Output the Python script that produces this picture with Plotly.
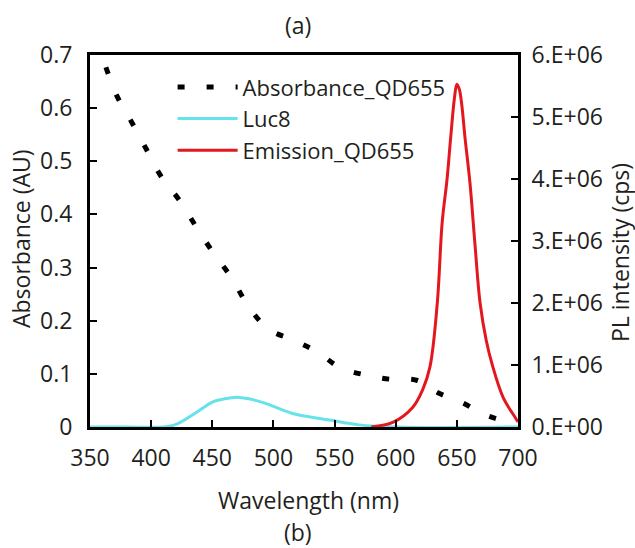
import plotly.graph_objects as go

# Absorbance spectrum of QD655 (AU)
abs_wl = [363, 372, 384, 396, 408, 423, 437, 451, 466, 479, 496, 516, 536, 555,
          575, 595, 617, 635, 655, 673, 698]
abs_val = [0.677, 0.623, 0.574, 0.523, 0.472, 0.427, 0.376, 0.327, 0.280, 0.229,
           0.184, 0.164, 0.141, 0.111, 0.098, 0.090, 0.088, 0.064, 0.045, 0.023, 0.006]

# Luc8 bioluminescence (scaled to absorbance axis)
luc_wl = [350, 380, 418, 436, 450, 460, 470, 480, 493, 515, 546, 570, 600, 700]
luc_val = [0, 0, 0.003, 0.026, 0.047, 0.053, 0.056, 0.053, 0.045, 0.026, 0.013,
           0.004, 0, 0]

# QD655 photoluminescence (cps)
em_wl = [580, 598, 614, 622, 628, 634, 638, 642, 645, 648, 650, 652, 654, 656.6,
         660.7, 665, 669, 674, 679, 688, 697.5, 700]
em_val = [0, 0.08e6, 0.32e6, 0.60e6, 0.97e6, 2.0e6, 3.3e6, 4.0e6, 4.68e6, 5.3e6,
          5.53e6, 5.45e6, 5.2e6, 4.68e6, 3.94e6, 2.9e6, 2.0e6, 1.4e6, 1.0e6, 0.47e6,
          0.16e6, 0.08e6]

x_ticks = [350, 400, 450, 500, 550, 600, 650, 700]
left_ticks = [0, 0.1, 0.2, 0.3, 0.4, 0.5, 0.6, 0.7]
left_labels = ["0", "0.1", "0.2", "0.3", "0.4", "0.5", "0.6", "0.7"]
right_ticks = [0, 1e6, 2e6, 3e6, 4e6, 5e6, 6e6]
right_labels = ["0.E+00", "1.E+06", "2.E+06", "3.E+06", "4.E+06", "5.E+06", "6.E+06"]

FONT = "Open Sans"
FS = 23
INK = "#231f20"

fig = go.Figure()
fig.add_trace(go.Scatter(
    x=abs_wl, y=abs_val, name="Absorbance_QD655", mode="lines",
    line=dict(color="black", width=5, dash="7px,22px", shape="spline"),
))
fig.add_trace(go.Scatter(
    x=luc_wl, y=luc_val, name="Luc8", mode="lines",
    line=dict(color="#66e2ea", width=3, shape="spline"),
))
fig.add_trace(go.Scatter(
    x=em_wl, y=em_val, name="Emission_QD655", mode="lines", yaxis="y2",
    line=dict(color="#e3171d", width=3, shape="spline"),
))

axis_common = dict(
    showgrid=False, zeroline=False, showline=True, linecolor="black", linewidth=3,
    ticks="inside", ticklen=7, tickwidth=2, tickcolor="black",
    tickfont=dict(family=FONT, size=FS, color=INK),
)

fig.update_layout(
    width=635, height=548,
    margin=dict(l=90, r=117, t=55, b=121),
    paper_bgcolor="white", plot_bgcolor="white",
    font=dict(family=FONT, size=FS, color=INK),
    xaxis=dict(range=[350, 700], tickvals=x_ticks, mirror=True,
               ticklabelstandoff=8, **axis_common),
    yaxis=dict(range=[0, 0.7], tickvals=left_ticks, ticktext=left_labels,
               ticklabelstandoff=10, **axis_common),
    yaxis2=dict(range=[0, 6e6], tickvals=right_ticks, ticktext=right_labels,
                overlaying="y", side="right", ticklabelstandoff=6, **axis_common),
    legend=dict(x=0.193, y=0.97, xanchor="left", yanchor="top",
                bgcolor="rgba(0,0,0,0)", itemwidth=60,
                font=dict(family=FONT, size=22, color=INK)),
    showlegend=True,
)

# text placed by pixel position within the 635x548 canvas
L, R, T, B = 90, 635 - 117, 55, 548 - 121
labels = [
    ("(a)", 298, 25, 0),
    ("Wavelength (nm)", 308, 500, 0),
    ("(b)", 298, 532, 0),
    ("Absorbance (AU)", 21, 239, -90),
    ("PL intensity (cps)", 620, 253, -90),
]
for text, px, py, ang in labels:
    fig.add_annotation(
        text=text, x=(px - L) / (R - L), y=(B - py) / (B - T),
        xref="paper", yref="paper", xanchor="center", yanchor="middle",
        textangle=ang, showarrow=False,
        font=dict(family=FONT, size=FS, color=INK),
    )

fig.write_html("out.html")
